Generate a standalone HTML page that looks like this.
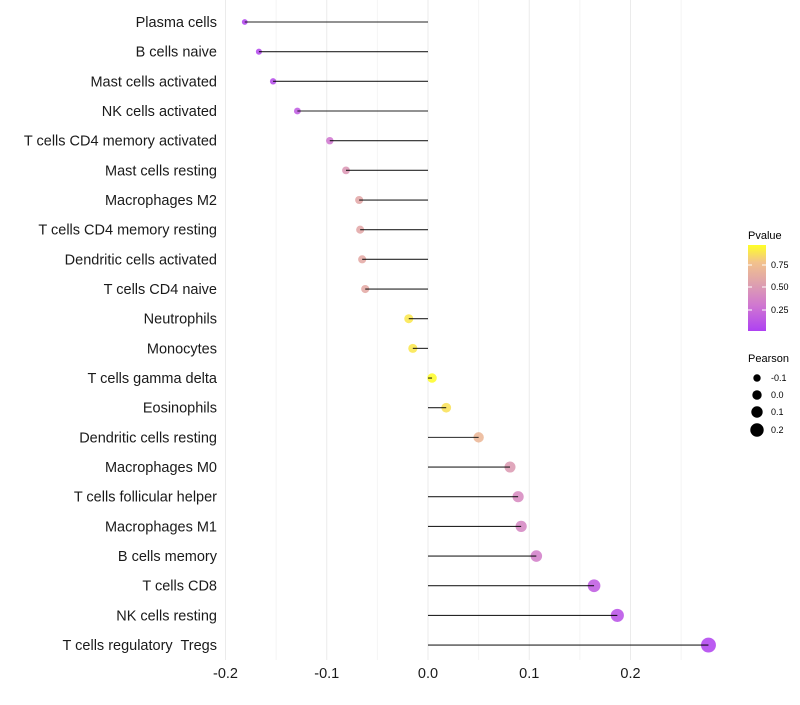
<!DOCTYPE html>
<html><head><meta charset="utf-8"><style>
body{margin:0;background:#fff;font-family:"Liberation Sans",sans-serif}
text{white-space:pre}
</style></head><body>
<svg id="c" width="800" height="700" xmlns="http://www.w3.org/2000/svg">
<defs><linearGradient id="g" x1="0" y1="1" x2="0" y2="0">
<stop offset="0" stop-color="#a020f0"/><stop offset="0.3" stop-color="#c860c8"/><stop offset="0.55" stop-color="#d890a0"/><stop offset="0.8" stop-color="#f0b878"/><stop offset="1" stop-color="#ffff00"/></linearGradient></defs>
</svg>
<script>
const categories=["Plasma cells","B cells naive","Mast cells activated","NK cells activated","T cells CD4 memory activated","Mast cells resting","Macrophages M2","T cells CD4 memory resting","Dendritic cells activated","T cells CD4 naive","Neutrophils","Monocytes","T cells gamma delta","Eosinophils","Dendritic cells resting","Macrophages M0","T cells follicular helper","Macrophages M1","B cells memory","T cells CD8","NK cells resting","T cells regulatory  Tregs"];
const pearson=[-0.181,-0.167,-0.153,-0.129,-0.097,-0.081,-0.068,-0.067,-0.065,-0.062,-0.019,-0.015,0.004,0.018,0.050,0.081,0.089,0.092,0.107,0.164,0.187,0.277];
const pvalue=[0.03,0.05,0.07,0.15,0.3,0.5,0.6,0.6,0.62,0.62,0.92,0.92,0.99,0.9,0.72,0.52,0.42,0.4,0.35,0.15,0.1,0.03];
const xTicks=[-0.2,-0.1,0.0,0.1,0.2];
const xTickLabels=["-0.2","-0.1","0.0","0.1","0.2"];
const svg=document.getElementById('c');const NS="http://www.w3.org/2000/svg";
const x=v=>428+v*1012.5;
const y=i=>22+i*29.67;
function mk(t,a,p){const e=document.createElementNS(NS,t);for(const k in a)e.setAttribute(k,a[k]);(p||svg).appendChild(e);return e;}
function col(p){const stops=[[0,[160,32,240]],[0.3,[200,96,200]],[0.55,[216,144,160]],[0.8,[240,184,120]],[1,[255,255,0]]];
for(let i=1;i<stops.length;i++){if(p<=stops[i][0]){const a=stops[i-1],b=stops[i],t=(p-a[0])/(b[0]-a[0]);return 'rgb('+a[1].map((c,j)=>Math.round(c+(b[1][j]-c)*t)).join(',')+')';}}return 'rgb(255,255,0)';}
const rad=v=>4.7+10*v;
for(let v=-0.2;v<=0.26;v+=0.05){const g=mk('line',{x1:x(v),x2:x(v),y1:0,y2:660,stroke:Math.abs(Math.round(v*100))%10==0?'#ebebeb':'#f4f4f4','stroke-width':1});

}
categories.forEach((c,i)=>{
const t=mk('text',{x:217,y:y(i)+5,'text-anchor':'end','font-size':14.5,fill:'#1a1a1a'});t.textContent=c;


const p=mk('circle',{cx:x(pearson[i]),cy:y(i),r:rad(pearson[i]),fill:col(pvalue[i]),'fill-opacity':0.75});


const l=mk('line',{x1:x(0),x2:x(pearson[i]),y1:y(i),y2:y(i),stroke:'#000','stroke-width':1.1,'stroke-opacity':0.85});


});
xTicks.forEach((v,i)=>{const t=mk('text',{x:x(v),y:678,'text-anchor':'middle','font-size':14.5,fill:'#1a1a1a'});t.textContent=xTickLabels[i];

});
let t=mk('text',{x:748,y:239,'font-size':11});t.textContent='Pvalue';


const bar=mk('rect',{x:748,y:245,width:18,height:86,fill:'url(#g)','fill-opacity':0.85});


[[0.75,265],[0.5,287],[0.25,310]].forEach(([v,yy])=>{const s=mk('text',{x:771,y:yy+3,'font-size':9});s.textContent=v.toFixed(2);


mk('line',{x1:748,x2:752,y1:yy,y2:yy,stroke:'#fff'});mk('line',{x1:762,x2:766,y1:yy,y2:yy,stroke:'#fff'});});
t=mk('text',{x:748,y:362,'font-size':11});t.textContent='Pearson';


[["-0.1",-0.1,378],["0.0",0,395],["0.1",0.1,412],["0.2",0.2,430]].forEach(([lab,v,yy])=>{mk('circle',{cx:757,cy:yy,r:rad(v),fill:'#000'});
const s=mk('text',{x:771,y:yy+3,'font-size':9});s.textContent=lab;

});
</script>
</body></html>
